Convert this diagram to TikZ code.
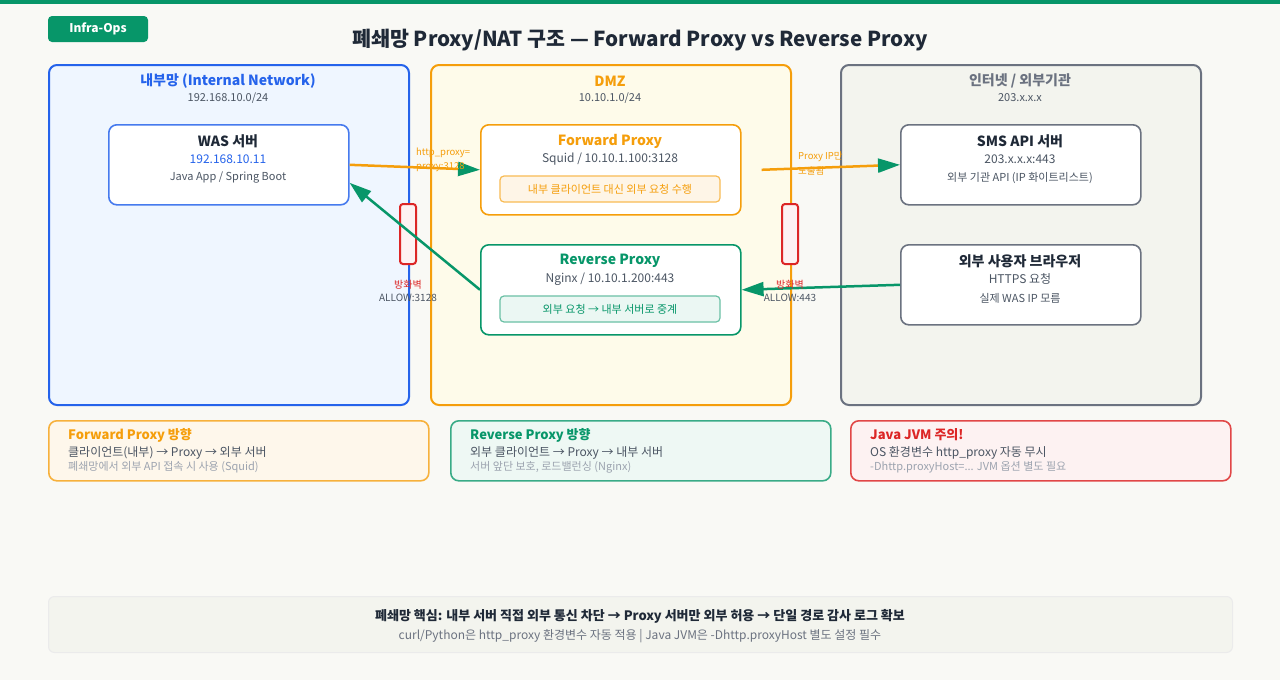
\documentclass[tikz,border=0pt]{standalone}
\usepackage{fontspec}
\setmainfont{Noto Sans CJK KR}
\usetikzlibrary{arrows.meta}
\definecolor{opsgreen}{HTML}{079669}
\definecolor{pagebg}{HTML}{F9F9F5}
\definecolor{lanblue}{HTML}{2563EB}
\definecolor{lanbg}{HTML}{EFF6FF}
\definecolor{dmzorange}{HTML}{F59E0B}
\definecolor{dmzbg}{HTML}{FEFBEA}
\definecolor{wangray}{HTML}{6B7280}
\definecolor{wanbg}{HTML}{F3F4EE}
\definecolor{fwred}{HTML}{DC2626}
\definecolor{fwbg}{HTML}{FDF2F2}
\definecolor{inkdark}{HTML}{1F2937}
\definecolor{inkmid}{HTML}{4B5563}
\definecolor{inklight}{HTML}{9CA3AF}
\begin{document}
\begin{tikzpicture}[x=1pt,y=-1pt,
  zone/.style={draw,line width=2pt,rounded corners=8pt,anchor=north west,inner sep=0pt,minimum width=360pt,minimum height=340pt},
  srv/.style={draw,line width=1.6pt,fill=white,rounded corners=8pt,anchor=north west,inner sep=0pt,minimum width=240pt},
  tag/.style={draw,line width=1.2pt,rounded corners=4pt,inner sep=0pt,minimum width=220pt,minimum height=26pt},
  note/.style={draw,line width=1.6pt,rounded corners=8pt,anchor=north west,inner sep=0pt,minimum width=380pt,minimum height=60pt},
  fw/.style={draw=fwred,fill=fwbg,line width=2pt,rounded corners=3pt,inner sep=0pt,minimum width=16pt,minimum height=60pt},
  ztitle/.style={font=\fontsize{14}{16}\selectfont\bfseries},
  zsub/.style={font=\fontsize{11}{13}\selectfont,text=inkmid},
  stitle/.style={font=\fontsize{14}{16}\selectfont\bfseries,text=inkdark},
  ssub/.style={font=\fontsize{12}{14}\selectfont,text=inkmid},
  sthird/.style={font=\fontsize{11}{13}\selectfont,text=inkmid},
  lbl/.style={font=\fontsize{9.5}{11}\selectfont,anchor=west,inner sep=0pt},
  ntitle/.style={font=\fontsize{13}{15}\selectfont\bfseries,anchor=west,inner sep=0pt},
  nline/.style={font=\fontsize{12}{14}\selectfont,text=inkmid,anchor=west,inner sep=0pt},
  nsmall/.style={font=\fontsize{11}{13}\selectfont,text=inklight,anchor=west,inner sep=0pt},
  flow/.style={line width=2.5pt,-{Triangle[length=22pt,width=14pt,color=opsgreen]}}]
\useasboundingbox (0,0) rectangle (1280,680);
\fill[pagebg] (0,0) rectangle (1280,680);
\fill[opsgreen] (0,0) rectangle (1280,4);
% header
\node[fill=opsgreen,rounded corners=4pt,minimum width=100pt,minimum height=26pt,inner sep=0pt,text=white,font=\fontsize{12}{14}\selectfont\bfseries] (badge) at (98,29) {Infra-Ops};
\node[font=\fontsize{20.6}{24}\selectfont\bfseries,text=inkdark] (title) at (640,40) {폐쇄망 Proxy/NAT 구조 — Forward Proxy vs Reverse Proxy};
% zones
\node[zone,draw=lanblue,fill=lanbg] (lan) at (48,64) {};
\node[zone,draw=dmzorange,fill=dmzbg] (dmz) at (430,64) {};
\node[zone,draw=wangray,fill=wanbg] (wan) at (840,64) {};
\node[ztitle,text=lanblue] (lan-t) at (228,81) {내부망 (Internal Network)};
\node[zsub] (lan-s) at (228,98) {192.168.10.0/24};
\node[ztitle,text=dmzorange] (dmz-t) at (610,81) {DMZ};
\node[zsub] (dmz-s) at (610,98) {10.10.1.0/24};
\node[ztitle,text=wangray] (wan-t) at (1020,81) {인터넷 / 외부기관};
\node[zsub] (wan-s) at (1020,98) {203.x.x.x};
% servers
\node[srv,draw=lanblue!85,minimum height=80pt] (was) at (108,124) {};
\node[stitle] (was-t) at (228,141) {WAS 서버};
\node[ssub,text=lanblue] (was-s) at (228,159) {192.168.10.11};
\node[sthird] (was-d) at (228,178) {Java App / Spring Boot};
\node[srv,draw=dmzorange,minimum width=260pt,minimum height=90pt] (fp) at (480,124) {};
\node[stitle,text=dmzorange] (fp-t) at (610,141) {Forward Proxy};
\node[ssub] (fp-s) at (610,159) {Squid / 10.10.1.100:3128};
\node[tag,draw=dmzorange!70,fill=dmzorange!10,text=dmzorange,font=\fontsize{11}{13}\selectfont] (fp-d) at (610,189) {내부 클라이언트 대신 외부 요청 수행};
\node[srv,draw=opsgreen,minimum width=260pt,minimum height=90pt] (rp) at (480,244) {};
\node[stitle,text=opsgreen] (rp-t) at (610,261) {Reverse Proxy};
\node[ssub] (rp-s) at (610,279) {Nginx / 10.10.1.200:443};
\node[tag,draw=opsgreen!60,fill=opsgreen!8,text=opsgreen,font=\fontsize{11}{13}\selectfont] (rp-d) at (610,309) {외부 요청 → 내부 서버로 중계};
\node[srv,draw=wangray,minimum height=80pt] (sms) at (900,124) {};
\node[stitle] (sms-t) at (1020,141) {SMS API 서버};
\node[ssub] (sms-s) at (1020,159) {203.x.x.x:443};
\node[sthird] (sms-d) at (1020,178) {외부 기관 API (IP 화이트리스트)};
\node[srv,draw=wangray,minimum height=80pt] (br) at (900,244) {};
\node[stitle] (br-t) at (1020,261) {외부 사용자 브라우저};
\node[ssub] (br-s) at (1020,279) {HTTPS 요청};
\node[sthird] (br-d) at (1020,298) {실제 WAS IP 모름};
% firewalls
\node[fw] (fw1) at (408,234) {};
\node[font=\fontsize{10}{12}\selectfont,text=fwred] (fw1-t) at (408,285) {방화벽};
\node[font=\fontsize{10}{12}\selectfont,text=inkmid] (fw1-s) at (408,298) {ALLOW:3128};
\node[fw] (fw2) at (790,234) {};
% flows
\coordinate (fp-out) at ([xshift=20pt]fp.east);
\coordinate (was-in) at ([yshift=-18pt]was.east);
\draw[flow,draw=dmzorange] (was.east) -- (fp.west);
\draw[flow,draw=dmzorange] (fp-out) -- (sms.west);
\draw[flow,draw=opsgreen] (rp.west) -- (was-in);
\draw[flow,draw=opsgreen] (br.west) -- (rp.east);
\node[lbl,text=dmzorange] (l1a) at (416,153) {http\_proxy=};
\node[lbl,text=dmzorange] (l1b) at (416,167) {proxy:3128};
\node[lbl,text=dmzorange] (l2a) at (798,157) {Proxy IP만};
\node[lbl,text=dmzorange] (l2b) at (798,171) {노출됨};
\node[font=\fontsize{10}{12}\selectfont,text=fwred] (fw2-t) at (790,285) {방화벽};
\node[font=\fontsize{10}{12}\selectfont,text=inkmid] (fw2-s) at (790,298) {ALLOW:443};
% notes
\node[note,draw=dmzorange!80,fill=dmzorange!8] (na) at (48,420) {};
\node[ntitle,text=dmzorange] (na-t) at (68,435) {Forward Proxy 방향};
\node[nline] (na-s) at (68,453) {클라이언트(내부) → Proxy → 외부 서버};
\node[nsmall] (na-d) at (68,467) {폐쇄망에서 외부 API 접속 시 사용 (Squid)};
\node[note,draw=opsgreen!80,fill=opsgreen!7] (nb) at (450,420) {};
\node[ntitle,text=opsgreen] (nb-t) at (470,435) {Reverse Proxy 방향};
\node[nline] (nb-s) at (470,453) {외부 클라이언트 → Proxy → 내부 서버};
\node[nsmall] (nb-d) at (470,467) {서버 앞단 보호, 로드밸런싱 (Nginx)};
\node[note,draw=fwred!85,fill=fwbg] (nc) at (850,420) {};
\node[ntitle,text=fwred] (nc-t) at (870,435) {Java JVM 주의!};
\node[nline] (nc-s) at (870,453) {OS 환경변수 http\_proxy 자동 무시};
\node[nsmall] (nc-d) at (870,467) {-Dhttp.proxyHost=... JVM 옵션 별도 필요};
% footer
\node[draw=black!8,fill=wanbg,line width=1pt,rounded corners=6pt,anchor=north west,minimum width=1184pt,minimum height=56pt,inner sep=0pt] (foot) at (48,596) {};
\node[font=\fontsize{13}{15}\selectfont\bfseries,text=inkdark] (foot-t) at (640,616) {폐쇄망 핵심: 내부 서버 직접 외부 통신 차단 → Proxy 서버만 외부 허용 → 단일 경로 감사 로그 확보};
\node[font=\fontsize{12}{14}\selectfont,text=wangray] (foot-s) at (640,636) {curl/Python은 http\_proxy 환경변수 자동 적용 | Java JVM은 -Dhttp.proxyHost 별도 설정 필수};
\end{tikzpicture}
\end{document}
